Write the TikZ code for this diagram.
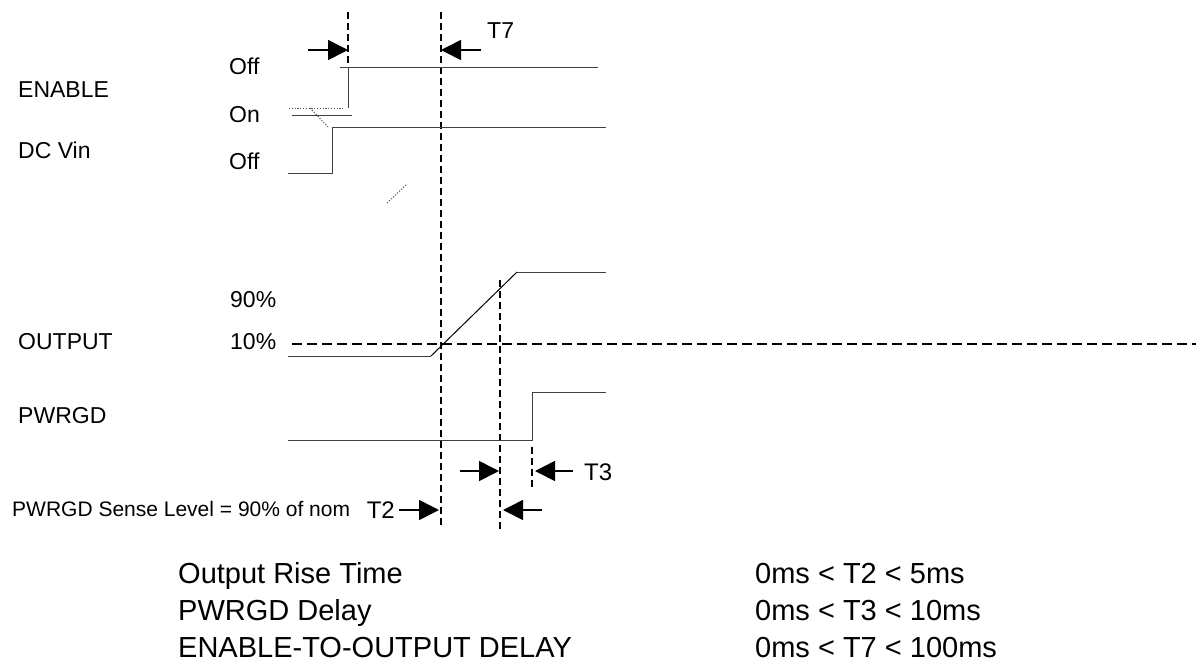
\documentclass[tikz,border=0pt]{standalone}
\usepackage{fontspec}
\setmainfont{Liberation Sans}
\usetikzlibrary{arrows.meta}

\begin{document}
\begin{tikzpicture}[x=1pt,y=-1pt,
  sig/.style={line width=1pt,black!75},
  vdash/.style={line width=1.8pt,dash pattern=on 7pt off 4pt},
  hdash/.style={line width=1.8pt,dash pattern=on 10pt off 5pt},
  dotline/.style={line width=1pt,black!65,dash pattern=on 1.2pt off 1.6pt},
  dim/.style={line width=1.6pt,-{Triangle[length=20pt,width=20pt]}},
  lbl/.style={anchor=base west,inner sep=0pt,font=\fontsize{23}{27}\selectfont},
  tbl/.style={anchor=base west,inner sep=0pt,font=\fontsize{29}{34}\selectfont}]
\useasboundingbox (0,0) rectangle (1196,662);

% signal names
\node[lbl] (enable) at (18,97) {ENABLE};
\node[lbl] (dcvin) at (18,158) {DC Vin};
\node[lbl] (output) at (18,349) {OUTPUT};
\node[lbl] (pwrgd) at (18,423) {PWRGD};
\node[lbl] (enoff) at (229,74) {Off};
\node[lbl] (enon) at (229,122) {On};
\node[lbl] (vinoff) at (229,169) {Off};
\node[lbl] (pct90) at (230,307) {90\%};
\node[lbl] (pct10) at (230,349) {10\%};

% reference lines
\coordinate (d1t) at (348,12);  \coordinate (d1b) at (348,67);
\coordinate (d2t) at (441,12);  \coordinate (d2b) at (441,527);
\coordinate (d3t) at (500,280); \coordinate (d3b) at (500,530);
\coordinate (d4t) at (532,447); \coordinate (d4b) at (532,488);
\coordinate (h10a) at (292,344); \coordinate (h10b) at (1196,344);
\draw[vdash] (d1t) -- (d1b);
\draw[vdash] (d2t) -- (d2b);
\draw[vdash] (d3t) -- (d3b);
\draw[vdash] (d4t) -- (d4b);
\draw[hdash] (h10a) -- (h10b);

% waveforms
\draw[sig] (340,67) -- (598,67);
\draw[sig] (348,67) -- (348,108);
\draw[sig] (292,115) -- (352,115);
\draw[dotline] (289,108) -- (343,108);
\draw[dotline] (310,108) -- (328,127);
\draw[sig] (288,173) -- (332,173) -- (332,127) -- (606,127);
\draw[dotline] (387,203) -- (406,185);
\draw[sig] (288,356) -- (431,356);
\draw[line width=1pt] (431,356) -- (517,272);
\draw[sig] (517,272) -- (606,272);
\draw[sig] (288,440) -- (532,440) -- (532,392) -- (606,392);

% timing arrows
\coordinate (t7a) at (308,50); \coordinate (t7b) at (481,50);
\draw[dim] (t7a) -- (d1t |- t7a);
\draw[dim] (t7b) -- (d2t |- t7b);
\node[lbl] (t7) at (487,38) {T7};
\coordinate (t3a) at (460,471); \coordinate (t3b) at (573,471);
\draw[dim] (t3a) -- ([xshift=-1pt]d3t |- t3a);
\draw[dim] (t3b) -- ([xshift=3pt]d4t |- t3b);
\node[lbl,font=\fontsize{24}{28}\selectfont] (t3) at (584,480) {T3};
\coordinate (t2a) at (399,510); \coordinate (t2b) at (542,510);
\draw[dim] (t2a) -- ([xshift=-2pt]d2t |- t2a);
\draw[dim] (t2b) -- ([xshift=3pt]d3t |- t2b);
\node[lbl,anchor=base east,font=\fontsize{24}{28}\selectfont] (t2) at (395,518) {T2};
\node[lbl,font=\fontsize{21}{25}\selectfont] (sense) at (12,516) {PWRGD Sense Level = 90\% of nom};

% limits
\node[tbl] (rise) at (178,583) {Output Rise Time};
\node[tbl] (pgdly) at (178,620) {PWRGD Delay};
\node[tbl] (endly) at (178,657) {ENABLE-TO-OUTPUT DELAY};
\node[tbl] (riseval) at (755,583) {0ms < T2 < 5ms};
\node[tbl] (pgval) at (755,620) {0ms < T3 < 10ms};
\node[tbl] (enval) at (755,657) {0ms < T7 < 100ms};
\end{tikzpicture}
\end{document}
